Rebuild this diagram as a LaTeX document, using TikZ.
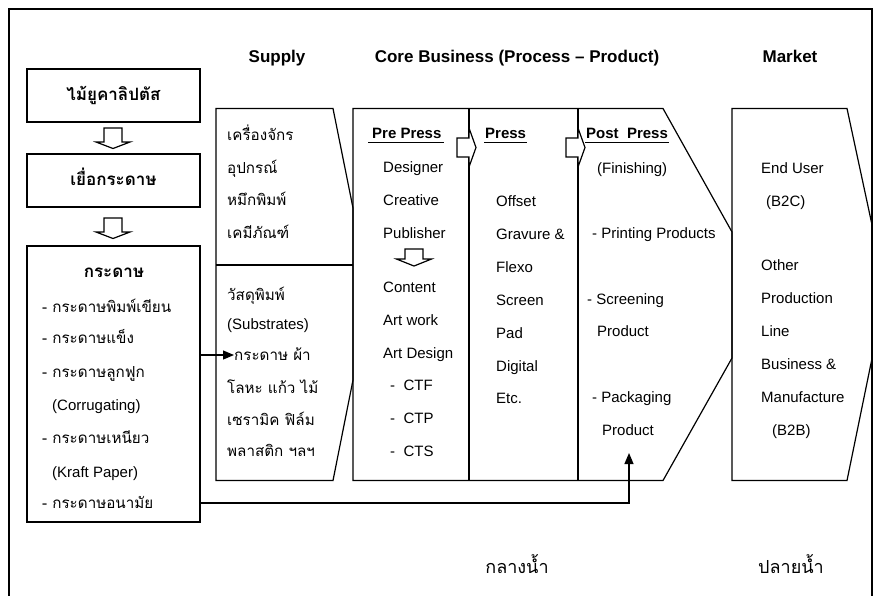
\documentclass[tikz,border=0pt]{standalone}
\usepackage{fontspec}
\setmainfont{Liberation Sans}
\newfontfamily\thai[Script=Thai]{Loma}
\usetikzlibrary{arrows.meta}
\tikzset{
  ln/.style={line width=1.2pt, line join=miter, draw=black},
  txt/.style={anchor=west, inner sep=0pt, text height=10pt, text depth=0pt, font=\fontsize{15}{18}\selectfont},
  ctxt/.style={txt, anchor=center},
  hdr/.style={txt, font=\bfseries\fontsize{15}{18}\selectfont},
  ttl/.style={ctxt, font=\bfseries\fontsize{17}{20}\selectfont},
  th/.style={txt, font=\thai\fontsize{15.2}{18}\selectfont},
  thb/.style={ctxt, font=\thai\bfseries\fontsize{17}{20}\selectfont},
  thbig/.style={ctxt, font=\thai\fontsize{18}{21}\selectfont},
  boxn/.style={ln, rectangle, inner sep=0pt, minimum width=173pt},
  arr/.style={ln, -{Triangle[length=11pt, width=9pt]}},
  darrow/.pic={\draw[ln, fill=white] (-9,-14) -- (9,-14) -- (9,0) -- (17,0) -- (0,6.5) -- (-17,0) -- (-9,0) -- cycle;},
  sdarrow/.pic={\draw[ln, fill=white] (-9,-10) -- (9,-10) -- (9,0) -- (17.5,0) -- (0,7) -- (-17.5,0) -- (-9,0) -- cycle;},
  rarrow/.pic={\draw[ln, fill=white] (-12,-9.5) -- (0,-9.5) -- (0,-19.5) -- (7,0) -- (0,19.5) -- (0,9.5) -- (-12,9.5) -- cycle;},
}
\begin{document}
\begin{tikzpicture}[x=1pt, y=-1pt]
\clip (0,0) rectangle (875,595);
\fill[white] (0,0) rectangle (875,595);
% outer frame
\draw[ln] (9,600) -- (9,9) -- (872,9) -- (872,600);

% titles
\node[ttl] (tsup) at (277,57) {Supply};
\node[ttl] (tcore) at (517,57) {Core Business (Process -- Product)};
\node[ttl] (tmkt) at (790,57) {Market};

% left column
\node[boxn, minimum height=53pt] (box1) at (113.5,95.5) {};
\node[thb] (b1t) at (box1.center) {ไม้ยูคาลิปตัส};
\pic at (113,142) {darrow};
\node[boxn, minimum height=53pt] (box2) at (113.5,180.5) {};
\node[thb] (b2t) at (box2.center) {เยื่อกระดาษ};
\pic at (113,232) {darrow};
\node[boxn, minimum height=276pt] (box3) at (113.5,384) {};
\node[thb] (b3t) at (114,272) {กระดาษ};
\node[th] (p1) at (42,307) {- กระดาษพิมพ์เขียน};
\node[th] (p2) at (42,338) {- กระดาษแข็ง};
\node[th] (p3) at (42,372) {- กระดาษลูกฟูก};
\node[txt] (p3e) at (52,405) {(Corrugating)};
\node[th] (p4) at (42,438) {- กระดาษเหนียว};
\node[txt] (p4e) at (52,472) {(Kraft Paper)};
\node[th] (p5) at (42,503) {- กระดาษอนามัย};

% supply shape
\draw[ln] (216,108.5) -- (333,108.5) -- (353,208) -- (353,380) -- (333,480.5) -- (216,480.5) -- cycle;
\draw[ln] (216,265) -- (353,265);
\node[th] (s1) at (227,135) {เครื่องจักร};
\node[th] (s2) at (227,168) {อุปกรณ์};
\node[th] (s3) at (227,200) {หมึกพิมพ์};
\node[th] (s4) at (227,233) {เคมีภัณฑ์};
\node[th] (u1) at (227,295) {วัสดุพิมพ์};
\node[txt] (u2) at (227,324) {(Substrates)};
\node[th] (u3) at (234,355) {กระดาษ ผ้า};
\node[th] (u4) at (227,388) {โลหะ แก้ว ไม้};
\node[th] (u5) at (227,420) {เซรามิค ฟิล์ม};
\node[th] (u6) at (227,451) {พลาสติก ฯลฯ};

% core business shape
\draw[ln] (353,108.5) -- (663,108.5) -- (732,232) -- (732,358) -- (663,480.5) -- (353,480.5) -- cycle;
\draw[ln] (469,108.5) -- (469,480.5);
\draw[ln] (578,108.5) -- (578,480.5);
\pic at (469,147.5) {rarrow};
\pic at (578,147.5) {rarrow};

% pre press
\node[hdr] (hpre) at (372,133) {Pre Press};
\draw[ln] ([xshift=-4pt, yshift=-4pt]hpre.south west) -- ([xshift=2pt, yshift=-4pt]hpre.south east);
\node[txt] (a1) at (383,167) {Designer};
\node[txt] (a2) at (383,200) {Creative};
\node[txt] (a3) at (383,233) {Publisher};
\pic at (414,259) {sdarrow};
\node[txt] (a4) at (383,287) {Content};
\node[txt] (a5) at (383,320) {Art work};
\node[txt] (a6) at (383,353) {Art Design};
\node[txt] (a7) at (390,385) {-\ \ CTF};
\node[txt] (a8) at (390,418) {-\ \ CTP};
\node[txt] (a9) at (390,451) {-\ \ CTS};

% press
\node[hdr] (hpr) at (485,133) {Press};
\draw[ln] ([xshift=-1pt, yshift=-4pt]hpr.south west) -- ([xshift=1pt, yshift=-4pt]hpr.south east);
\node[txt] (b1) at (496,201) {Offset};
\node[txt] (b2) at (496,234) {Gravure \&};
\node[txt] (b3) at (496,267) {Flexo};
\node[txt] (b4) at (496,300) {Screen};
\node[txt] (b5) at (496,333) {Pad};
\node[txt] (b6) at (496,366) {Digital};
\node[txt] (b7) at (496,398) {Etc.};

% post press
\node[hdr] (hpo) at (586,133) {Post\ \ Press};
\draw[ln] ([xshift=-1pt, yshift=-4pt]hpo.south west) -- ([xshift=1pt, yshift=-4pt]hpo.south east);
\node[txt] (c1) at (597,168) {(Finishing)};
\node[txt] (c2) at (592,233) {- Printing Products};
\node[txt] (c3) at (587,299) {- Screening};
\node[txt] (c4) at (597,331) {Product};
\node[txt] (c5) at (592,397) {- Packaging};
\node[txt] (c6) at (602,430) {Product};

% market shape
\begin{scope}
\clip (0,0) rectangle (872.5,595);
\draw[ln] (732,108.5) -- (847,108.5) -- (886,290) -- (847,480.5) -- (732,480.5) -- cycle;
\end{scope}
\node[txt] (m1) at (761,168) {End User};
\node[txt] (m2) at (766,201) {(B2C)};
\node[txt] (m3) at (761,265) {Other};
\node[txt] (m4) at (761,298) {Production};
\node[txt] (m5) at (761,331) {Line};
\node[txt] (m6) at (761,364) {Business \&};
\node[txt] (m7) at (761,397) {Manufacture};
\node[txt] (m8) at (772,430) {(B2B)};

% connectors
\draw[arr] (box3.east |- u3.west) -- (u3.west);
\coordinate (pk) at (629,453);
\draw[arr] (box3.east |- p5.west) -| (pk);

% bottom labels
\node[thbig] (mid) at (517,568) {กลางน้ำ};
\node[thbig] (down) at (791,568) {ปลายน้ำ};
\end{tikzpicture}
\end{document}
